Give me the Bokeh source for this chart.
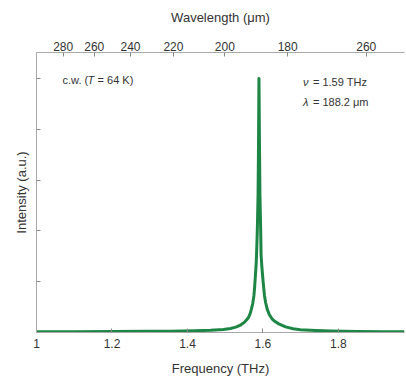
from bokeh.plotting import figure
from bokeh.models import Range1d, LinearAxis, FixedTicker, Label
from bokeh.embed import file_html
from bokeh.resources import INLINE

# ---- data ----
freq_thz = [1.000, 1.100, 1.200, 1.300, 1.355, 1.420, 1.461, 1.495, 1.514, 1.530,
            1.540, 1.545, 1.552, 1.558, 1.562, 1.566, 1.569, 1.573, 1.576, 1.578,
            1.580, 1.582, 1.583, 1.585, 1.587, 1.588, 1.5894, 1.591, 1.592, 1.594,
            1.595, 1.597, 1.599, 1.601, 1.604, 1.607, 1.611, 1.617, 1.624, 1.632,
            1.642, 1.660, 1.680, 1.699, 1.740, 1.779, 1.850, 1.920, 1.975]
intensity = [0.003, 0.003, 0.004, 0.005, 0.005, 0.007, 0.009, 0.012, 0.016, 0.022,
             0.029, 0.034, 0.042, 0.052, 0.060, 0.074, 0.090, 0.115, 0.145, 0.180,
             0.225, 0.270, 0.305, 0.400, 0.540, 0.700, 1.000, 0.700, 0.540, 0.400,
             0.305, 0.260, 0.225, 0.190, 0.146, 0.118, 0.093, 0.070, 0.054, 0.043,
             0.034, 0.022, 0.015, 0.011, 0.008, 0.006, 0.004, 0.003, 0.003]

bottom_ticks = [1.0, 1.2, 1.4, 1.6, 1.8]
bottom_labels = ["1", "1.2", "1.4", "1.6", "1.8"]
wavelength_um = [280, 260, 240, 220, 200, 180, 160]
wavelength_labels = ["280", "260", "240", "220", "200", "180", "260"]
left_ticks = [0.2, 0.4, 0.6, 0.8, 1.0]
C_UM_THZ = 299.792458  # speed of light in um*THz

FONT = "Liberation Sans"
TXT = "#333333"
AXC = "#a8a8a8"
TKC = "#888888"

p = figure(width=406, height=381, output_backend="svg", toolbar_location=None,
           x_range=Range1d(1.0, 1.975), y_range=Range1d(0.0, 1.102),
           x_axis_location=None, y_axis_location=None,
           min_border_left=36, min_border_right=2, min_border_top=52, min_border_bottom=49)
p.outline_line_color = None
p.xgrid.visible = False
p.ygrid.visible = False
p.background_fill_color = "white"
p.border_fill_color = "white"

def style(ax):
    ax.axis_line_color = AXC
    ax.axis_line_width = 1
    ax.major_tick_line_color = TKC
    ax.major_tick_in = 4
    ax.major_tick_out = 0
    ax.minor_tick_line_color = None
    ax.major_label_text_font = FONT
    ax.major_label_text_font_size = "12px"
    ax.major_label_text_color = TXT
    ax.axis_label_text_font = FONT
    ax.axis_label_text_font_style = "normal"
    ax.axis_label_text_font_size = "13px"
    ax.axis_label_text_color = TXT

xb = LinearAxis(ticker=FixedTicker(ticks=bottom_ticks),
                major_label_overrides={t: l for t, l in zip(bottom_ticks, bottom_labels)},
                axis_label="Frequency (THz)")
style(xb)
xb.major_label_standoff = 6
xb.axis_label_standoff = 10
p.add_layout(xb, "below")

top_pos = [C_UM_THZ / w for w in wavelength_um]
xt = LinearAxis(ticker=FixedTicker(ticks=top_pos),
                major_label_overrides={t: l for t, l in zip(top_pos, wavelength_labels)},
                axis_label="Wavelength (μm)")
style(xt)
xt.major_label_standoff = 2
xt.axis_label_standoff = 14
p.add_layout(xt, "above")

yl = LinearAxis(ticker=FixedTicker(ticks=left_ticks),
                major_label_overrides={t: "" for t in left_ticks},
                axis_label="Intensity (a.u.)")
style(yl)
yl.major_label_standoff = 0
yl.axis_label_standoff = 8
p.add_layout(yl, "left")

p.line(freq_thz, intensity, line_color="#1d8645", line_width=3, line_join="round")

def lab(x, y, text, dx=0, italic=False, size="11px"):
    p.add_layout(Label(x=x, y=y, x_offset=dx, text=text, text_font=FONT,
                       text_font_size=size, text_color=TXT,
                       text_font_style="italic" if italic else "normal",
                       text_baseline="middle", text_align="left"))

lab(1.069, 0.992, "c.w. (")
lab(1.069, 0.992, "T", dx=25, italic=True)
lab(1.069, 0.992, "= 64 K)", dx=35)

lab(1.706, 0.984, "ν", italic=True)
lab(1.706, 0.984, "= 1.59 THz", dx=10)
lab(1.706, 0.906, "λ", italic=True)
lab(1.706, 0.906, "= 188.2 μm", dx=10)

open("out.html", "w").write(file_html(p, INLINE))
